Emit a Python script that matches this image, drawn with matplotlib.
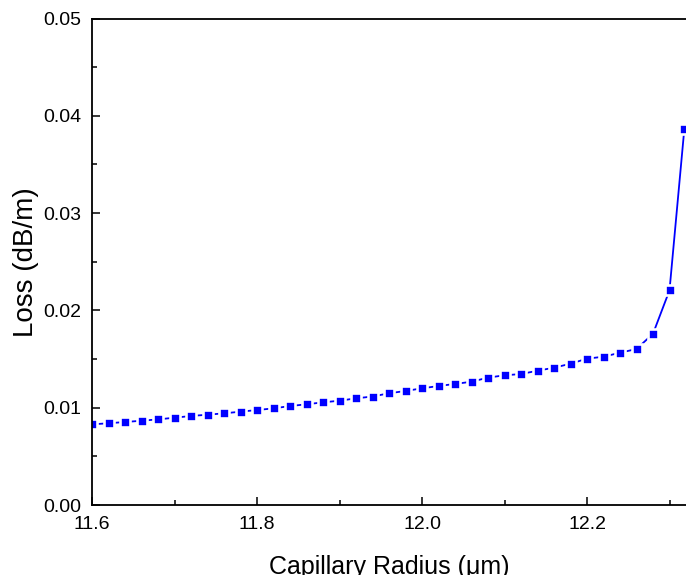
import matplotlib
matplotlib.use("Agg")
import matplotlib.pyplot as plt
from matplotlib.ticker import MultipleLocator, FormatStrFormatter

plt.rcParams['font.family'] = ['Liberation Sans', 'DejaVu Sans']

# capillary radius (um) and loss (dB/m)
radius = [11.60, 11.62, 11.64, 11.66, 11.68, 11.70, 11.72, 11.74, 11.76, 11.78,
          11.80, 11.82, 11.84, 11.86, 11.88, 11.90, 11.92, 11.94, 11.96, 11.98,
          12.00, 12.02, 12.04, 12.06, 12.08, 12.10, 12.12, 12.14, 12.16, 12.18,
          12.20, 12.22, 12.24, 12.26, 12.28, 12.30, 12.318]
loss = [0.00829, 0.00840, 0.00853, 0.00866, 0.00880, 0.00897, 0.00915, 0.00928,
        0.00942, 0.00959, 0.00976, 0.00993, 0.01017, 0.01035, 0.01055, 0.01072,
        0.01096, 0.01115, 0.01148, 0.01172, 0.01199, 0.01223, 0.01244, 0.01267,
        0.01309, 0.01333, 0.01346, 0.01380, 0.01411, 0.01452, 0.01504, 0.01524,
        0.01565, 0.01603, 0.01760, 0.02206, 0.03867]

fig = plt.figure(figsize=(6.86, 5.75), dpi=100)
ax = fig.add_axes([92/686, 70/575, 1 - 92/686, 486.5/575])

# line first, then markers with a white rim so the line gaps near each symbol
# (kept under the spines, zorder 2.5)
ax.plot(radius, loss, color='#0000ff', lw=1.3, zorder=2.1)
ax.plot(radius, loss, ls='none', marker='s', ms=7.1, mfc='#0000ff',
        mec='white', mew=1.9, zorder=2.2)

ax.set_xlim(11.6, 12.32)
ax.set_ylim(0, 0.05)

ax.xaxis.set_major_locator(MultipleLocator(0.2))
ax.xaxis.set_minor_locator(MultipleLocator(0.1))
ax.yaxis.set_major_locator(MultipleLocator(0.01))
ax.yaxis.set_minor_locator(MultipleLocator(0.005))
ax.xaxis.set_major_formatter(FormatStrFormatter('%.1f'))
ax.yaxis.set_major_formatter(FormatStrFormatter('%.2f'))

ax.tick_params(which='both', direction='in', top=False, right=False,
               labelsize=14, width=1.1, pad=8)
ax.tick_params(which='major', length=6)
ax.tick_params(which='minor', length=3.5)

for s in ['left', 'bottom', 'top']:
    ax.spines[s].set_linewidth(1.3)
ax.spines['right'].set_visible(False)

ax.set_xlabel('Capillary Radius (\u03bcm)', fontsize=18, labelpad=16)
ax.set_ylabel('Loss (dB/m)', fontsize=20, labelpad=3)

fig.savefig('out.png', dpi=100)
